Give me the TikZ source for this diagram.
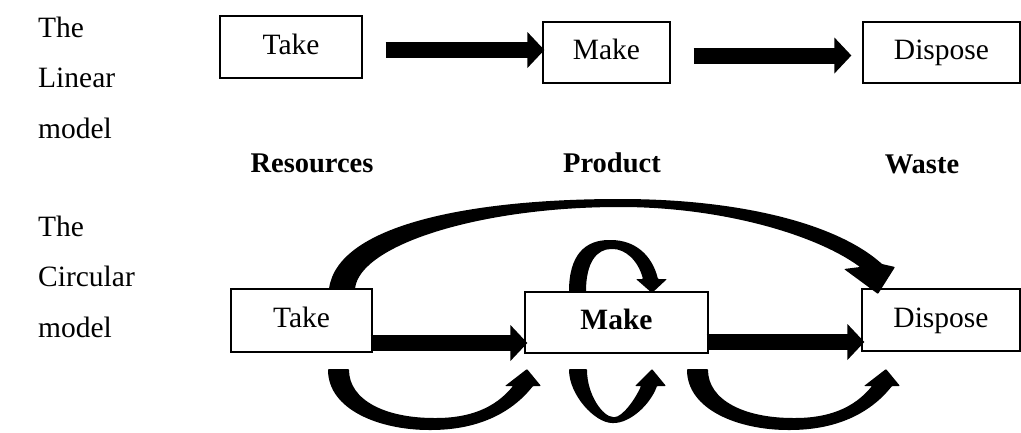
\documentclass[tikz,border=0pt]{standalone}
\usepackage{fontspec}
\setmainfont{Liberation Serif}
\usetikzlibrary{arrows.meta}
\begin{document}
\begin{tikzpicture}[x=1pt,y=-1pt,
  box/.style={draw, line width=1.2pt, inner sep=0pt, text height=21pt, text depth=7pt,
              font=\fontsize{29.5}{35}\selectfont},
  side/.style={anchor=base west, align=left, inner sep=0pt, font=\fontsize{29.5}{50.5}\selectfont},
  blbl/.style={anchor=base, inner sep=0pt, font=\fontsize{28.5}{34}\selectfont\bfseries},
  blk/.style={line width=16pt, -{Triangle[width=35pt,length=17pt]}},
  shp/.style={fill=black, draw=none, rounded corners=0.8pt}]
\useasboundingbox (0,0) rectangle (1021,432);

% side labels (base anchor = baseline of last line)
\node[side] (lin) at (38,138) {The\\Linear\\model};
\node[side] (cir) at (38,337) {The\\Circular\\model};

% linear model
\node[box, minimum width=142pt, minimum height=62pt] (t1) at (291,47) {Take};
\node[box, minimum width=127pt, minimum height=61pt] (m1) at (606.5,52.5) {Make};
\node[box, minimum width=157pt, minimum height=61pt] (d1) at (941.5,52.5) {Dispose};

\draw[blk] ([xshift=23pt,yshift=-3pt]t1.east) -- ([xshift=2pt,yshift=2.5pt]m1.west);
\draw[blk] ([xshift=23pt,yshift=-3pt]m1.east) -- ([xshift=-11pt,yshift=-3pt]d1.west);

% bold labels
\node[blbl] (res) at (312,172) {Resources};
\node[blbl] (prod) at (612,172) {Product};
\node[blbl] (waste) at (922,173) {Waste};

% circular model
\node[box, minimum width=141pt, minimum height=63pt] (t2) at (301.5,320.5) {Take};
\node[box, minimum width=183pt, minimum height=61pt, font=\fontsize{29.5}{35}\selectfont\bfseries] (m2) at (616.5,322.5) {Make};
\node[box, minimum width=158pt, minimum height=62pt] (d2) at (941,320) {Dispose};

\draw[blk] ([xshift=-2pt,yshift=-22.5pt]t2.east) -- ([xshift=3pt,yshift=-20.5pt]m2.west);
\draw[blk] ([xshift=-2pt,yshift=-19.5pt]m2.east) -- ([xshift=3pt,yshift=-22pt]d2.west);

% big top arc: Take -> Dispose
\fill[shp] (329,289) .. controls (338,225) and (470,199) .. (620,199)
  .. controls (735,199) and (835,222) .. (882,264)
  -- (895,267) -- (878,294) -- (844,269) -- (860,267)
  .. controls (815,234) and (720,207) .. (620,207)
  .. controls (480,207) and (360,245) .. (355,289) -- cycle;

% small top loop on Make
\fill[shp] (569,292) .. controls (569,255) and (585,240) .. (610,240)
  .. controls (635,240) and (652,255) .. (658,279)
  -- (667,279) -- (652,293) -- (636,279) -- (643,279)
  .. controls (638,260) and (625,249) .. (612,249)
  .. controls (597,249) and (586,262) .. (586,292) -- cycle;

% bottom arcs Take -> Make and Make -> Dispose
\foreach \dx in {0,359}{
\begin{scope}[xshift=\dx pt]
\fill[shp] (328,369) .. controls (328,410) and (380,430) .. (430,430)
  .. controls (475,430) and (510,415) .. (533,386)
  -- (541,386) -- (527,369) -- (505,386) -- (513,386)
  .. controls (495,408) and (470,418) .. (435,418)
  .. controls (385,418) and (349,400) .. (349,369) -- cycle;
\end{scope}}

% bottom loop on Make
\fill[shp] (569,369) .. controls (569,395) and (595,423) .. (613,423)
  .. controls (630,423) and (650,405) .. (657,386)
  -- (666,386) -- (652,369) -- (635,386) -- (641,386)
  .. controls (635,400) and (622,417) .. (614,417)
  .. controls (603,417) and (587,395) .. (587,369) -- cycle;
\end{tikzpicture}
\end{document}
